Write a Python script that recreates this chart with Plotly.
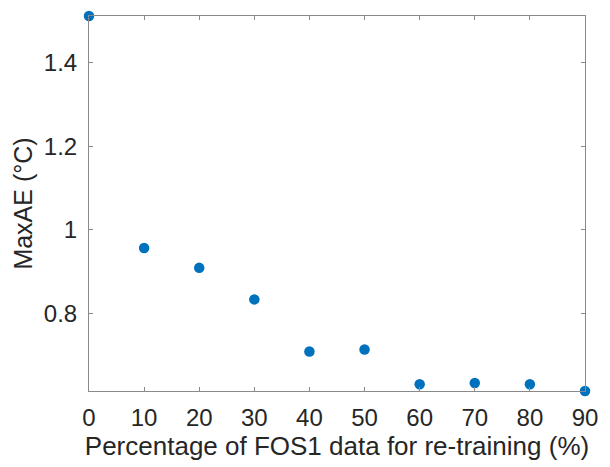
import plotly.graph_objects as go

# Share of FOS1 data used for re-training (%) and the resulting max absolute error
pct_retrain = [0, 10, 20, 30, 40, 50, 60, 70, 80, 90]
max_ae = [1.5116, 0.9560, 0.9085, 0.8330, 0.7080, 0.7130, 0.6296, 0.6327, 0.6296, 0.6136]

x_ticks = [0, 10, 20, 30, 40, 50, 60, 70, 80, 90]
y_ticks = [0.8, 1.0, 1.2, 1.4]
y_tick_text = ["0.8", "1", "1.2", "1.4"]

axis_color = "#8a8a8a"
text_color = "#262626"
font_family = "Liberation Sans, Arial, sans-serif"

fig = go.Figure(
    go.Scatter(
        x=pct_retrain,
        y=max_ae,
        mode="markers",
        marker=dict(color="#0072BD", size=10.5, line=dict(width=0)),
        cliponaxis=False,
        hoverinfo="x+y",
    )
)

axis_common = dict(
    showgrid=False,
    zeroline=False,
    showline=True,
    linecolor=axis_color,
    linewidth=1,
    mirror="ticks",
    ticks="inside",
    ticklen=4,
    tickwidth=1,
    tickcolor=axis_color,
    tickfont=dict(family=font_family, size=24, color=text_color),
)

fig.update_xaxes(
    range=[0, 90],
    tickvals=x_ticks,
    title=dict(
        text="Percentage of FOS1 data for re-training (%)",
        font=dict(family=font_family, size=26, color=text_color),
        standoff=6,
    ),
    ticklabelstandoff=5,
    **axis_common,
)
fig.update_yaxes(
    range=[min(max_ae), max(max_ae)],
    tickvals=y_ticks,
    ticktext=y_tick_text,
    title=dict(
        text="MaxAE (°C)",
        font=dict(family=font_family, size=25, color=text_color),
        standoff=4,
    ),
    ticklabelstandoff=6,
    **axis_common,
)

fig.update_layout(
    width=610,
    height=467,
    margin=dict(l=89, r=16, t=16, b=75),
    paper_bgcolor="white",
    plot_bgcolor="white",
    showlegend=False,
)

fig.write_html("out.html")
